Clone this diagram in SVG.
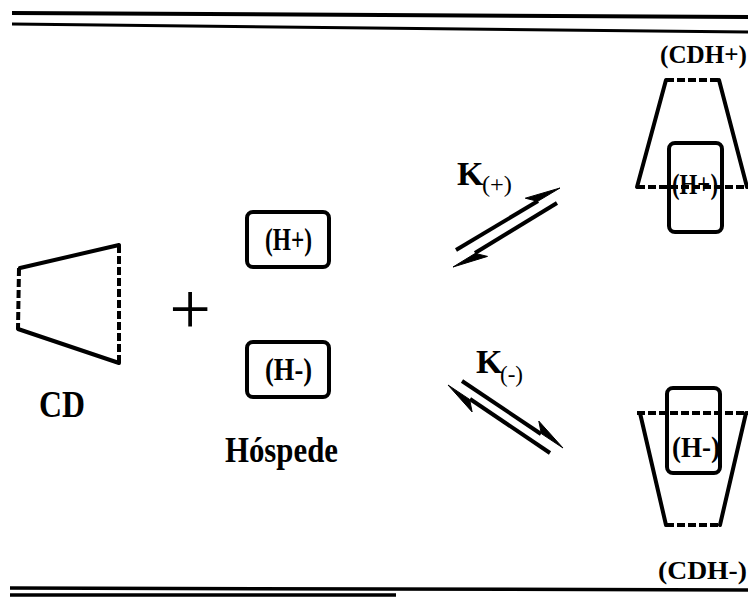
<svg xmlns="http://www.w3.org/2000/svg" width="748" height="598" viewBox="0 0 748 598">
<style>
.rule{stroke:#000;stroke-linecap:butt;fill:none}
.solid{stroke:#000;stroke-width:4;fill:none;stroke-linecap:round}
.dash{stroke:#000;stroke-width:4;fill:none;stroke-dasharray:8 3}
.box{stroke:#000;stroke-width:4;fill:none}
.lbl{font-family:"Liberation Serif","Times New Roman",serif;font-weight:bold;fill:#000}
.sub{font-family:"Liberation Serif","Times New Roman",serif;font-weight:normal;fill:#000}
.arr{stroke:#000;stroke-width:4;fill:none}
.head{fill:#000;stroke:#000;stroke-width:1}
</style>
<rect width="748" height="598" fill="#fff"/>
<g id="rules">
<line class="rule" x1="12" y1="13" x2="748" y2="17" stroke-width="4"/>
<line class="rule" x1="12" y1="24" x2="748" y2="32" stroke-width="3"/>
<line class="rule" x1="10" y1="588" x2="748" y2="590" stroke-width="3.5"/>
<line class="rule" x1="10" y1="595" x2="396" y2="595" stroke-width="3.5"/>
</g>
<g id="cd">
<line class="solid" x1="20" y1="268" x2="119" y2="245"/>
<line class="solid" x1="18" y1="329" x2="119" y2="363"/>
<line class="dash" x1="19" y1="268" x2="18" y2="329"/>
<line class="dash" x1="119" y1="245" x2="119" y2="363"/>
<text class="lbl" x="39" y="417" font-size="37" textLength="46" lengthAdjust="spacingAndGlyphs">CD</text>
</g>
<g id="plus">
<text class="sub" x="190" y="334" font-size="74" text-anchor="middle">+</text>
</g>
<g id="hplus">
<rect class="box" x="247" y="212" width="82" height="55" rx="6"/>
<text class="lbl" x="265" y="250" font-size="31" textLength="47" lengthAdjust="spacingAndGlyphs">(H+)</text>
</g>
<g id="hminus">
<rect class="box" x="247" y="342" width="82" height="55" rx="6"/>
<text class="lbl" x="265" y="380" font-size="31" textLength="47" lengthAdjust="spacingAndGlyphs">(H-)</text>
</g>
<g id="hospede">
<text class="lbl" x="225" y="462" font-size="35" textLength="113" lengthAdjust="spacingAndGlyphs">Hóspede</text>
</g>
<g id="connectors">
<line class="arr" x1="456" y1="250" x2="538" y2="201"/>
<polygon class="head" points="560,188 525.3,198.2 537.7,201.3"/>
<line class="arr" x1="557" y1="203" x2="475" y2="253"/>
<polygon class="head" points="453,267 487.5,256.4 475.2,253.4"/>
<line class="arr" x1="462" y1="381" x2="541" y2="434"/>
<polygon class="head" points="563,448 538.8,421.1 541.3,433.6"/>
<line class="arr" x1="550" y1="453" x2="470" y2="399"/>
<polygon class="head" points="448,385 472.1,411.9 469.6,399.4"/>
</g>
<g id="kplus">
<text class="lbl" x="457" y="185" font-size="34">K</text>
<text class="sub" x="482" y="192" font-size="24" textLength="30" lengthAdjust="spacingAndGlyphs">(+)</text>
</g>
<g id="kminus">
<text class="lbl" x="476" y="373" font-size="34">K</text>
<text class="sub" x="500" y="382" font-size="24" textLength="23" lengthAdjust="spacingAndGlyphs">(-)</text>
</g>
<g id="cdhplus">
<text class="lbl" x="660" y="63" font-size="25" textLength="87" lengthAdjust="spacingAndGlyphs">(CDH+)</text>
<line class="solid" x1="666" y1="80" x2="637" y2="187"/>
<line class="solid" x1="719" y1="80" x2="747" y2="187"/>
<line class="dash" x1="666" y1="80" x2="719" y2="80"/>
<rect class="box" x="669" y="143" width="53" height="89" rx="6"/>
<line class="dash" x1="637" y1="187" x2="748" y2="187"/>
<text class="lbl" x="672" y="194" font-size="29" textLength="46" lengthAdjust="spacingAndGlyphs">(H+)</text>
</g>
<g id="cdhminus">
<rect class="box" x="667" y="388" width="53" height="85" rx="6"/>
<line class="dash" x1="637" y1="413" x2="748" y2="413"/>
<line class="solid" x1="640" y1="413" x2="666" y2="525"/>
<line class="solid" x1="746" y1="413" x2="720" y2="525"/>
<line class="dash" x1="666" y1="525" x2="720" y2="525"/>
<text class="lbl" x="672" y="457" font-size="29" textLength="48" lengthAdjust="spacingAndGlyphs">(H-)</text>
<text class="lbl" x="658" y="579" font-size="26" textLength="89" lengthAdjust="spacingAndGlyphs">(CDH-)</text>
</g>
</svg>
